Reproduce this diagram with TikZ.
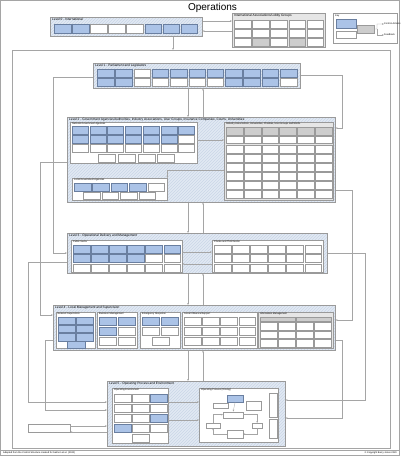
\documentclass[tikz,border=0pt]{standalone}
\usepackage{fontspec}
\setmainfont{Liberation Sans}
\usetikzlibrary{patterns,arrows.meta}
\definecolor{lvlfill}{HTML}{E1E9F3}
\definecolor{lvlhatch}{HTML}{CAD6E7}
\definecolor{boxblue}{HTML}{ABC3E7}
\definecolor{boxedge}{HTML}{6A7FA0}
\definecolor{cellgray}{HTML}{9A9A9A}
\definecolor{hdrgray}{HTML}{CDCDCD}
\definecolor{grpfill}{HTML}{E6E6E6}
\definecolor{linegray}{HTML}{A5A5A5}
\tikzset{
  lvl/.style={draw=cellgray, line width=0.5pt, anchor=north west, inner sep=0pt,
    preaction={fill=lvlfill}, pattern=north east lines, pattern color=lvlhatch},
  grp/.style={draw=cellgray, fill=white, line width=0.4pt, anchor=north west, inner sep=0pt},
  grpgray/.style={grp, fill=grpfill},
  cellbl/.style={draw=boxedge, fill=boxblue, line width=0.25pt, anchor=north west, inner sep=0pt,
    minimum width=16.5pt, minimum height=8pt},
  cellwh/.style={cellbl, draw=cellgray, fill=white},
  cellgr/.style={cellbl, draw=cellgray, fill=hdrgray},
  lvltitle/.style={anchor=north west, inner sep=0pt, font=\fontsize{3.2}{3.6}\selectfont},
  grptitle/.style={anchor=north west, inner sep=0pt, font=\fontsize{2.4}{2.8}\selectfont},
  conn/.style={draw=linegray, line width=0.3pt},
  tip/.style={-{Stealth[length=2pt,width=1.6pt]}}
}
\begin{document}
\begin{tikzpicture}[x=1pt,y=-1pt]
\useasboundingbox (0,0) rectangle (400,456);
\draw[linegray, line width=0.6pt] (0.5,0.5) rectangle (399.5,455.5);
\node[font=\fontsize{10}{12}\selectfont] (title) at (212.5,7.5) {Operations};

% level 0
\node[lvl, minimum width=152pt, minimum height=19pt] (lvl0) at (50,17) {};
\node[lvltitle] (lvl0t) at (52,18.3) {Level 0 - International};
\foreach \i/\c in {0/cellbl,1/cellbl,2/cellwh,3/cellwh,4/cellwh,5/cellbl,6/cellbl,7/cellbl}
  \node[\c, minimum height=9pt] (l0c\i) at (54+\i*18.1,24) {};

% associations
\node[grpgray, minimum width=93pt, minimum height=34pt] (assoc) at (232,13) {};
\node[lvltitle] (assoct) at (234,14.3) {International Associations/Lobby Groups};
\foreach \r in {0,1,2}
  \foreach \i in {0,...,4}
    \node[cellwh] (asc\r\i) at (234+\i*18.2,20+\r*9) {};
\node[cellgr] at (asc21.north west) {};
\node[cellgr] at (asc23.north west) {};

% key
\node[grp, minimum width=64pt, minimum height=30pt] (key) at (333,13) {};
\node[grptitle] (keyt) at (335,14.5) {Key};
\node[cellbl, minimum width=20pt, minimum height=9pt] (keyb) at (336,19) {};
\node[cellwh, minimum width=20pt, minimum height=7pt] (keyw) at (336,31) {};
\node[cellgr, minimum width=17pt, minimum height=8pt] (keyg) at (357,25) {};
\coordinate (keyc) at (377,29);
\coordinate (keyu) at (384,24);
\coordinate (keyd) at (384,35);
\draw[conn, tip] (keyg.east) -- (keyc) |- (keyu);
\draw[conn, tip] (keyc) |- (keyd);
\node[grptitle, anchor=west] at (keyu) {Control Actions};
\node[grptitle, anchor=west] at (keyd) {Feedback};

% frame for levels 1-5
\draw[linegray, line width=0.5pt] (12,50) rectangle (390,448);

% level 1
\node[lvl, minimum width=207pt, minimum height=25pt] (lvl1) at (93,63) {};
\node[lvltitle] (lvl1t) at (95,64.3) {Level 1 - Parliament and Legislators};
\foreach \i/\c in {0/cellbl,1/cellbl,2/cellwh,3/cellbl,4/cellbl,5/cellbl,6/cellbl,7/cellbl,8/cellbl,9/cellbl,10/cellbl}
  \node[\c] (l1a\i) at (97+\i*18.3,68.5) {};
\foreach \i/\c in {0/cellbl,1/cellbl,2/cellwh,3/cellwh,4/cellwh,5/cellwh,6/cellwh,7/cellbl,8/cellbl,9/cellbl,10/cellwh}
  \node[\c] (l1b\i) at (97+\i*18.3,78) {};

% level 2
\node[lvl, minimum width=268pt, minimum height=85pt] (lvl2) at (67,117) {};
\node[lvltitle] (lvl2t) at (69,118.3) {Level 2 - Government Agencies/Authorities, Industry Associations, User Groups, Insurance Companies, Courts, Universities};
\node[grp, minimum width=127pt, minimum height=41pt] (natgov) at (70,122) {};
\node[grptitle] at (72,123) {National Government Agencies};
\foreach \i in {0,...,6}
  \node[cellbl, minimum width=16pt] (ng1\i) at (72+\i*17.7,126) {};
\foreach \i/\c in {0/cellbl,1/cellbl,2/cellbl,3/cellbl,4/cellbl,5/cellbl,6/cellwh}
  \node[\c, minimum width=16pt] (ng2\i) at (72+\i*17.7,135) {};
\foreach \i in {0,...,6}
  \node[cellwh, minimum width=16pt] (ng3\i) at (72+\i*17.7,144) {};
\foreach \i in {0,...,3}
  \node[cellwh, minimum width=17pt] (ng4\i) at (98+\i*19.8,154) {};
\node[grp, minimum width=95pt, minimum height=22pt] (locgov) at (72,178) {};
\node[grptitle] at (74,179) {Local Government Agencies};
\foreach \i/\c in {0/cellbl,1/cellbl,2/cellbl,3/cellbl,4/cellwh}
  \node[\c] (lg1\i) at (74+\i*18.4,182.5) {};
\foreach \i in {0,...,3}
  \node[cellwh, minimum height=7pt] (lg2\i) at (83+\i*18.5,192) {};
\node[grpgray, minimum width=109pt, minimum height=78pt] (indus) at (224,122) {};
\node[grptitle] at (226,123) {Industry Associations, Universities, Charities, User Groups and NGOs};
\foreach \i in {0,...,5}
  \node[cellgr, minimum width=16.8pt] (ih\i) at (226+\i*17.8,126.5) {};
\foreach \r in {1,...,7}
  \foreach \i in {0,...,5}
    \node[cellwh, minimum width=16.8pt, minimum height=7.8pt] (ic\r\i) at (226+\i*17.8,126.5+\r*9.1) {};
\draw[conn, tip] (natgov.east |- 0,140) -- (indus.west |- 0,140);
\draw[conn, tip] (indus.west |- 0,170) -- (locgov.east |- 0,170) -- (locgov.north east);

% level 3
\node[lvl, minimum width=260pt, minimum height=40pt] (lvl3) at (67,233) {};
\node[lvltitle] (lvl3t) at (69,234.3) {Level 3 - Operational Delivery and Management};
\node[grp, minimum width=111pt, minimum height=32pt] (pubsec) at (71,240) {};
\node[grptitle] at (73,241) {Public Sector};
\node[grp, minimum width=111pt, minimum height=32pt] (privsec) at (212,240) {};
\node[grptitle] at (214,241) {Private and Third Sector};
\foreach \i in {0,...,5} {
  \node[cellbl] (ps1\i) at (73+\i*18.1,245) {};
  \node[cellwh] (ps3\i) at (73+\i*18.1,263.5) {};
  \node[cellwh] (pv1\i) at (214+\i*18.1,245) {};
  \node[cellwh] (pv2\i) at (214+\i*18.1,254.2) {};
  \node[cellwh] (pv3\i) at (214+\i*18.1,263.5) {};
}
\foreach \i/\c in {0/cellbl,1/cellbl,2/cellbl,3/cellbl,4/cellwh,5/cellwh}
  \node[\c] (ps2\i) at (73+\i*18.1,254.2) {};
\draw[conn, tip] (pubsec.east |- 0,252) -- (privsec.west |- 0,252);
\draw[conn, tip] (privsec.west |- 0,264) -- (pubsec.east |- 0,264);

% level 4
\node[lvl, minimum width=282pt, minimum height=45pt] (lvl4) at (53,305) {};
\node[lvltitle] (lvl4t) at (55,306.3) {Level 4 - Local Management and Supervision};
\node[grp, minimum width=39pt, minimum height=36pt] (netsup) at (56,312) {};
\node[grptitle] at (57.5,313) {Network Supervision};
\foreach \r in {0,1,2}
  \foreach \i in {0,1}
    \node[cellbl, minimum width=17pt, minimum height=7.5pt] (ns\r\i) at (57.5+\i*18.5,316.5+\r*8.3) {};
\node[cellbl, minimum width=18pt, minimum height=6.5pt] (ns3) at (67,341) {};
\node[grp, minimum width=40pt, minimum height=36pt] (busman) at (97,312) {};
\node[grptitle] at (99,313) {Business Management};
\foreach \r/\i/\c in {0/0/cellbl,0/1/cellbl,1/0/cellbl,1/1/cellwh,2/0/cellwh,2/1/cellwh}
  \node[\c, minimum width=17pt] (bm\r\i) at (99+\i*18.5,316.5+\r*10) {};
\node[grp, minimum width=40pt, minimum height=36pt] (emres) at (140,312) {};
\node[grptitle] at (142,313) {Emergency Response};
\foreach \i in {0,1} {
  \node[cellbl, minimum width=17pt] (er0\i) at (142+\i*18.5,316.5) {};
  \node[cellwh, minimum width=17pt] (er1\i) at (142+\i*18.5,326.5) {};
}
\node[cellwh, minimum width=17pt] (er2) at (151.5,337) {};
\node[grp, minimum width=75pt, minimum height=36pt] (social) at (182,312) {};
\node[grptitle] at (184,313) {Social Influence/Support};
\foreach \r in {0,1,2}
  \foreach \i in {0,...,3}
    \node[cellwh, minimum height=8.5pt] (si\r\i) at (184+\i*18.2,316.5+\r*10) {};
\node[grpgray, minimum width=75pt, minimum height=36pt] (infoman) at (258,312) {};
\node[grptitle] at (260,313) {Information Management};
\node[cellgr, minimum width=35pt, minimum height=4.5pt] (imh0) at (260,316.5) {};
\node[cellgr, minimum width=35pt, minimum height=4.5pt] (imh1) at (296,316.5) {};
\foreach \r in {0,1,2}
  \foreach \i in {0,...,3}
    \node[cellwh, minimum width=16.5pt, minimum height=7.5pt] (im\r\i) at (260+\i*18,322+\r*8.7) {};

% level 5
\node[lvl, minimum width=178pt, minimum height=65pt] (lvl5) at (107,381) {};
\node[lvltitle] (lvl5t) at (109,382.3) {Level 5 - Operating Process and Environment};
\node[grp, minimum width=56pt, minimum height=55pt] (openv) at (112,388) {};
\node[grptitle] at (114,389) {Operating Environment};
\foreach \r/\i/\c in {0/0/cellwh,0/1/cellwh,0/2/cellbl,1/0/cellwh,1/1/cellwh,1/2/cellwh,
                       2/0/cellwh,2/1/cellwh,2/2/cellbl,3/0/cellbl,3/1/cellwh,3/2/cellwh}
  \node[\c] (oe\r\i) at (114+\i*18,394+\r*10) {};
\node[cellwh] (oe4) at (132,434) {};
\node[grp, minimum width=79pt, minimum height=54pt] (opproc) at (199,388) {};
\node[grptitle] at (201,389) {Operating Process (Driving)};
\node[cellbl, minimum width=16pt, minimum height=7.5pt] (drv) at (227,394.5) {};
\node[cellwh, minimum width=15pt, minimum height=5pt] (opa) at (213,402.5) {};
\node[cellwh, minimum width=15pt, minimum height=9pt] (opb) at (246,400.5) {};
\node[cellwh, minimum width=20pt, minimum height=6pt] (opc) at (223,411.5) {};
\node[cellwh, minimum width=14pt, minimum height=5pt] (opl) at (206,423) {};
\node[cellwh, minimum width=10pt, minimum height=5pt] (opr) at (252,423) {};
\node[cellwh, minimum width=16pt, minimum height=8pt] (opd) at (227,430) {};
\node[cellwh, minimum width=8pt, minimum height=24pt] (opv1) at (269,393) {};
\node[cellwh, minimum width=8pt, minimum height=19pt] (opv2) at (269,419) {};
\draw[conn, tip] (opl.north) |- (opc.west);
\draw[conn, tip] (opc.east) -| (opr.north);
\draw[conn, tip] (opr.south) |- (opd.east);
\draw[conn, tip] (opd.west) -| (opl.south);
\draw[conn, tip] (drv.south) -- (opc.north);
\draw[conn, tip] (openv.east |- 0,402) -- (opproc.west |- 0,402);
\draw[conn, tip] (openv.east |- 0,420) -- (opproc.west |- 0,420);

% external box left of level 5
\node[cellwh, minimum width=42pt, minimum height=8pt] (extv) at (28,424) {};
\draw[conn, tip] (extv.east |- 0,426) -- (lvl5.west |- 0,426);
\draw[conn, tip] (lvl5.west |- 0,432) -- (extv.east |- 0,432);

% central control and feedback connectors
\coordinate (cdown) at (188,0);
\coordinate (cup) at (203,0);
\coordinate (cl0) at (173,0);
\draw[conn, tip] (lvl0.south -| cl0) -- (12,50 -| cl0);
\foreach \a/\b in {lvl1/lvl2,lvl2/lvl3,lvl3/lvl4,lvl4/lvl5} {
  \draw[conn, tip] (\a.south -| cdown) -- (\b.north -| cdown);
  \draw[conn, tip] (\b.north -| cup) -- (\a.south -| cup);
}
\draw[conn, tip] (lvl0.east |- 0,21) -- (assoc.west |- 0,21);
\draw[conn, tip] (assoc.west |- 0,31) -- (lvl0.east |- 0,31);

% side loops
\draw[conn, tip] (lvl1.west |- 0,77) -- (53,77) -- (53,253) -- (lvl3.west |- 0,253);
\draw[conn, tip] (lvl2.west |- 0,162) -- (40,162) -- (40,315) -- (lvl4.west |- 0,315);
\draw[conn, tip] (lvl3.west |- 0,262) -- (28,262) -- (28,402) -- (lvl5.west |- 0,402);
\draw[conn, tip] (lvl4.west |- 0,340) -- (45,340) -- (45,410) -- (lvl5.west |- 0,410);
\draw[conn, tip] (lvl1.east |- 0,75) -- (342,75) -- (342,128) -- (lvl2.east |- 0,128);
\draw[conn, tip] (lvl2.east |- 0,190) -- (352,190) -- (352,320) -- (lvl4.east |- 0,320);
\draw[conn, tip] (lvl3.east |- 0,253) -- (365,253) -- (365,400) -- (lvl5.east |- 0,400);
\draw[conn, tip] (lvl4.east |- 0,340) -- (342,340) -- (342,418) -- (lvl5.east |- 0,418);

% footer
\draw[linegray, line width=0.4pt] (0,450.5) -- (400,450.5);
\node[anchor=west, inner sep=0pt, font=\fontsize{2.4}{2.8}\selectfont] (foot1) at (3,453) {Adapted from the Control Structure created for Salmon et al. (2020)};
\node[anchor=east, inner sep=0pt, font=\fontsize{2.4}{2.8}\selectfont] (foot2) at (397,453) {\textcopyright{} Copyright Barry Jones 2020};
\end{tikzpicture}
\end{document}
